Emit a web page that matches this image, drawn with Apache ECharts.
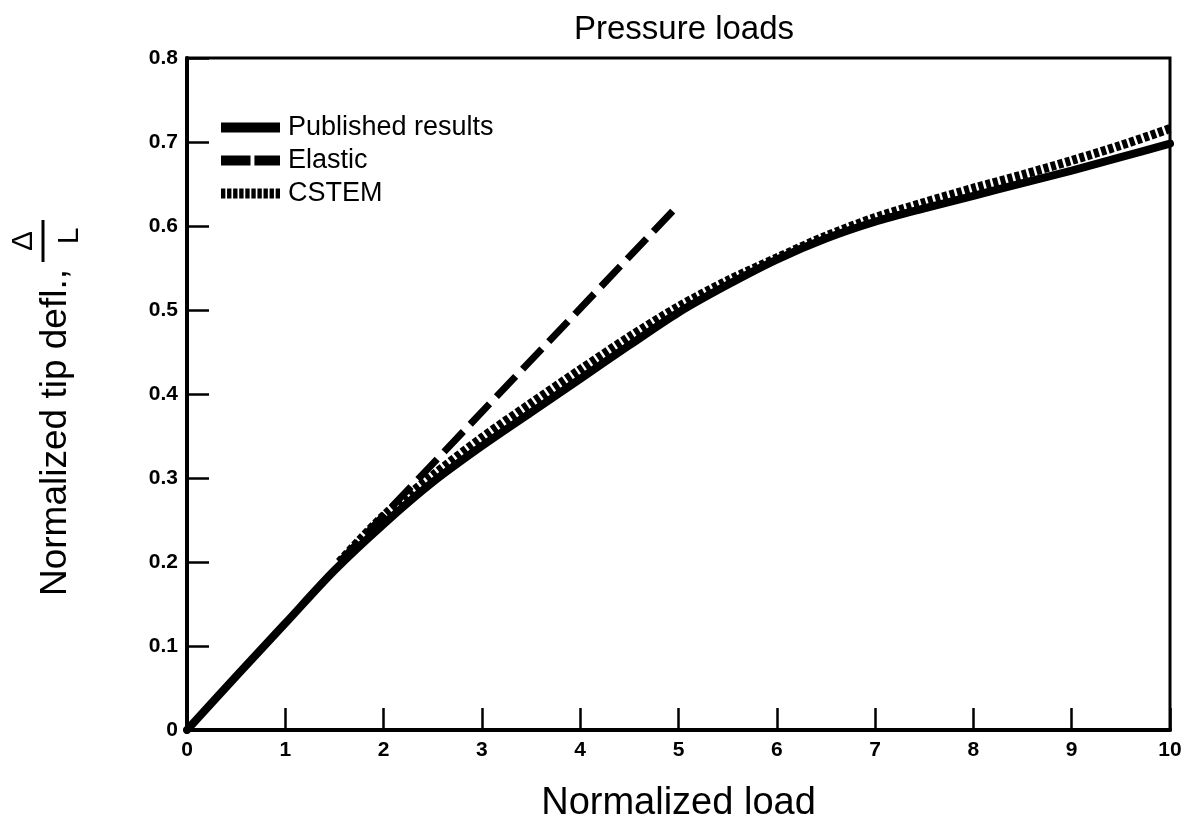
<!DOCTYPE html>
<html><head><meta charset="utf-8">
<script src="https://cdn.jsdelivr.net/npm/echarts@6/dist/echarts.min.js"></script>
<style>html,body{margin:0;padding:0;background:#fff}#c{width:1189px;height:833px}</style>
</head><body><div id="c"></div>
<script>
var xTicks = [0,1,2,3,4,5,6,7,8,9,10];
var yTicks = [0,0.1,0.2,0.3,0.4,0.5,0.6,0.7,0.8];
var publishedX = [0,0.5,1,1.5,2,2.5,3,3.5,4,4.5,5,5.5,6,6.5,7,7.5,8,8.5,9,9.5,10];
var publishedY = [0,0.064,0.127,0.19,0.245,0.295,0.338,0.378,0.418,0.458,0.497,0.53,0.56,0.585,0.605,0.621,0.636,0.651,0.666,0.682,0.698];
var elasticX = [1.55,5];
var elasticY = [0.2,0.625];
var cstemX = [1.55,2,2.5,3,3.5,4,4.5,5,5.5,6,6.5,7,7.5,8,8.5,9,9.5,10];
var cstemY = [0.2,0.255,0.303,0.348,0.389,0.429,0.468,0.504,0.535,0.562,0.588,0.61,0.628,0.645,0.661,0.678,0.696,0.716];

function pairs(xs, ys){ return xs.map(function(x,i){ return [x, ys[i]]; }); }
function dotsPath(){
  var p = 'path://';
  for (var i = 0; i < 10; i++) { var x = i * 6; p += 'M' + x + ',0H' + (x + 4.3) + 'V9H' + x + 'Z'; }
  return p;
}
var FONT = 'Liberation Sans';
var chart = echarts.init(document.getElementById('c'));
chart.setOption({
  animation:false,
  backgroundColor:'#fff',
  textStyle:{fontFamily:FONT,color:'#000'},
  title:{text:'Pressure loads',left:679,top:8,textAlign:'center',
    textStyle:{fontFamily:FONT,fontSize:33,fontWeight:'normal',color:'#000'}},
  grid:{left:187,right:19,top:58,bottom:103,show:true,borderColor:'#000',borderWidth:3,backgroundColor:'transparent'},
  legend:{
    orient:'vertical',left:216,top:109,itemGap:6,itemWidth:59,itemHeight:10,symbolKeepAspect:false,
    textStyle:{fontFamily:FONT,fontSize:27,color:'#000',padding:[0,0,0,3]},
    itemStyle:{color:'#000',borderWidth:0},
    data:[
      {name:'Published results',icon:'path://M0,0H60V10H0Z'},
      {name:'Elastic',icon:'path://M0,0H30V10H0ZM34,0H60V10H34Z'},
      {name:'CSTEM',icon:dotsPath()}
    ]
  },
  xAxis:{type:'value',min:0,max:10,interval:1,
    name:'Normalized load',nameLocation:'middle',nameGap:55,
    nameTextStyle:{fontFamily:FONT,fontSize:38,color:'#000'},
    axisLine:{lineStyle:{color:'#000',width:4}},
    axisTick:{inside:true,length:22,lineStyle:{color:'#000',width:2.5}},
    axisLabel:{fontFamily:FONT,fontSize:21,fontWeight:'bold',color:'#000',margin:10,
      formatter:function(v){return String(v);}},
    splitLine:{show:false}},
  yAxis:{type:'value',min:0,max:0.8,interval:0.1,
    axisLine:{show:true,lineStyle:{color:'#000',width:4}},
    axisTick:{show:true,inside:true,length:22,lineStyle:{color:'#000',width:2.5}},
    axisLabel:{fontFamily:FONT,fontSize:21,fontWeight:'bold',color:'#000',margin:9,
      formatter:function(v){return String(Math.round(v*10)/10);}},
    splitLine:{show:false}},
  graphic:[{
    type:'group',x:0,y:596,rotation:Math.PI/2,
    children:[
      {type:'text',x:0,y:56,style:{text:'Normalized tip defl.,',font:'37px "Liberation Sans"',fill:'#000',verticalAlign:'middle',align:'left'}},
      {type:'text',x:355,y:24,style:{text:'Δ',font:'30px "Liberation Sans"',fill:'#000',verticalAlign:'middle',align:'center'}},
      {type:'line',shape:{x1:334,y1:43,x2:376,y2:43},style:{stroke:'#000',lineWidth:3}},
      {type:'text',x:360,y:70,style:{text:'L',font:'30px "Liberation Sans"',fill:'#000',verticalAlign:'middle',align:'center'}}
    ]
  }],
  series:[
    {name:'Published results',type:'line',data:pairs(publishedX,publishedY),smooth:0.3,showSymbol:false,symbol:'none',
      lineStyle:{color:'#000',width:8,cap:'round'},itemStyle:{color:'#000'},z:3},
    {name:'Elastic',type:'line',data:pairs(elasticX,elasticY),showSymbol:false,symbol:'none',
      lineStyle:{color:'#000',width:7,type:[28,10],cap:'butt'},itemStyle:{color:'#000'},z:2},
    {name:'CSTEM',type:'line',data:pairs(cstemX,cstemY),smooth:0.3,showSymbol:false,symbol:'none',
      lineStyle:{color:'#000',width:9,type:[5,2.5],cap:'butt'},itemStyle:{color:'#000'},z:4}
  ]
});
</script></body></html>
